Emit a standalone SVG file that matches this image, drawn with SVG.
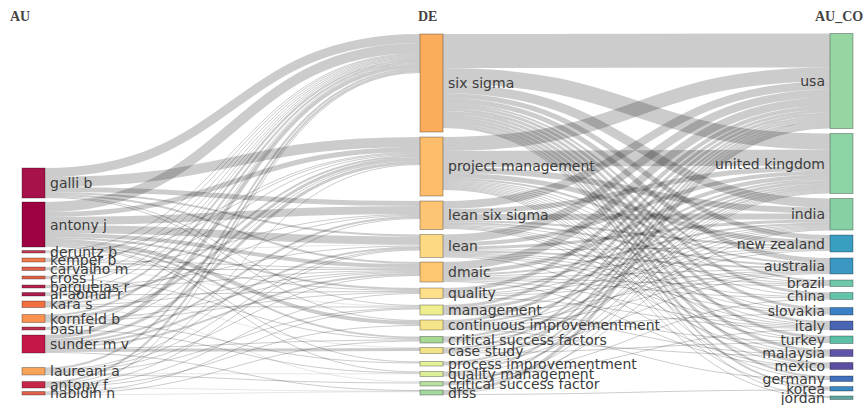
<svg xmlns="http://www.w3.org/2000/svg" width="867" height="405" viewBox="0 0 867 405">
<style>
.l,.r{fill:none;stroke:#000;stroke-opacity:0.2}
.n rect{stroke:#000;stroke-opacity:0.3;stroke-width:1}
.t{font-family:"DejaVu Sans",sans-serif;font-size:14px;fill:#3c3c3c}
.e{text-anchor:end}
.h{font-family:"Liberation Serif",serif;font-size:14px;font-weight:bold;fill:#444}
</style>
<rect width="867" height="405" fill="#fff"/>
<g id="connectors">
<path class="l" stroke-width="9" d="M45 172.5C232 172.5 232 38.5 420 38.5"/>
<path class="l" stroke-width="10" d="M45 182C232 182 232 142 420 142"/>
<path class="l" stroke-width="5" d="M45 189.5C232 189.5 232 203.5 420 203.5"/>
<path class="l" stroke-width="2" d="M45 193C232 193 232 235.5 420 235.5"/>
<path class="l" stroke-width="2" d="M45 195C232 195 232 263 420 263"/>
<path class="l" d="M45 196.5C232 196.5 232 305.5 420 305.5"/>
<path class="l" d="M45 197.5C232 197.5 232 320.5 420 320.5"/>
<path class="l" stroke-width="10" d="M45 207C232 207 232 48 420 48"/>
<path class="l" stroke-width="5" d="M45 214.5C232 214.5 232 149.5 420 149.5"/>
<path class="l" stroke-width="8" d="M45 221C232 221 232 210 420 210"/>
<path class="l" stroke-width="8" d="M45 229C232 229 232 240.5 420 240.5"/>
<path class="l" stroke-width="4" d="M45 235C232 235 232 266 420 266"/>
<path class="l" stroke-width="2" d="M45 238C232 238 232 289 420 289"/>
<path class="l" stroke-width="4" d="M45 241C232 241 232 323 420 323"/>
<path class="l" stroke-width="2" d="M45 244C232 244 232 337.5 420 337.5"/>
<path class="l" d="M45 245.5C232 245.5 232 362 420 362"/>
<path class="l" d="M45 246.5C232 246.5 232 372 420 372"/>
<path class="l" d="M45 251C232 251 232 53.5 420 53.5"/>
<path class="l" d="M45 252C232 252 232 152.5 420 152.5"/>
<path class="l" stroke-width="0.5" d="M45 252.75C232 252.75 232 244.75 420 244.75"/>
<path class="l" d="M45 258.5C232 258.5 232 54.5 420 54.5"/>
<path class="l" d="M45 259.5C232 259.5 232 153.5 420 153.5"/>
<path class="l" d="M45 260.5C232 260.5 232 268.5 420 268.5"/>
<path class="l" d="M45 261.5C232 261.5 232 290.5 420 290.5"/>
<path class="l" d="M45 267.5C232 267.5 232 55.5 420 55.5"/>
<path class="l" d="M45 268.5C232 268.5 232 214.5 420 214.5"/>
<path class="l" d="M45 269.5C232 269.5 232 269.5 420 269.5"/>
<path class="l" stroke-width="0.5" d="M45 270.25C232 270.25 232 306.25 420 306.25"/>
<path class="l" d="M45 276.5C232 276.5 232 56.5 420 56.5"/>
<path class="l" d="M45 277.5C232 277.5 232 154.5 420 154.5"/>
<path class="l" d="M45 278.5C232 278.5 232 339 420 339"/>
<path class="l" d="M45 285.5C232 285.5 232 57.5 420 57.5"/>
<path class="l" d="M45 286.5C232 286.5 232 246 420 246"/>
<path class="l" d="M45 287.5C232 287.5 232 270.5 420 270.5"/>
<path class="l" d="M45 293C232 293 232 58.5 420 58.5"/>
<path class="l" d="M45 294C232 294 232 215.5 420 215.5"/>
<path class="l" d="M45 295C232 295 232 291.5 420 291.5"/>
<path class="l" stroke-width="0.5" d="M45 295.75C232 295.75 232 347.75 420 347.75"/>
<path class="l" stroke-width="2" d="M45 302C232 302 232 60 420 60"/>
<path class="l" stroke-width="2" d="M45 304C232 304 232 156 420 156"/>
<path class="l" d="M45 305.5C232 305.5 232 271.5 420 271.5"/>
<path class="l" d="M45 306.5C232 306.5 232 307 420 307"/>
<path class="l" stroke-width="0.5" d="M45 307.25C232 307.25 232 381.75 420 381.75"/>
<path class="l" stroke-width="2" d="M45 315.5C232 315.5 232 62 420 62"/>
<path class="l" stroke-width="3" d="M45 318C232 318 232 158.5 420 158.5"/>
<path class="l" d="M45 320C232 320 232 272.5 420 272.5"/>
<path class="l" d="M45 321C232 321 232 292.5 420 292.5"/>
<path class="l" d="M45 322C232 322 232 363 420 363"/>
<path class="l" d="M45 327.5C232 327.5 232 63.5 420 63.5"/>
<path class="l" d="M45 328.5C232 328.5 232 160.5 420 160.5"/>
<path class="l" d="M45 329.5C232 329.5 232 373 420 373"/>
<path class="l" stroke-width="4" d="M45 337C232 337 232 66 420 66"/>
<path class="l" stroke-width="3" d="M45 340.5C232 340.5 232 162.5 420 162.5"/>
<path class="l" stroke-width="2" d="M45 343C232 343 232 217 420 217"/>
<path class="l" stroke-width="2" d="M45 345C232 345 232 247.5 420 247.5"/>
<path class="l" stroke-width="2" d="M45 347C232 347 232 274 420 274"/>
<path class="l" d="M45 348.5C232 348.5 232 340 420 340"/>
<path class="l" stroke-width="3" d="M45 350.5C232 350.5 232 349.5 420 349.5"/>
<path class="l" d="M45 352.5C232 352.5 232 390.5 420 390.5"/>
<path class="l" stroke-width="2" d="M45 368.5C232 368.5 232 69 420 69"/>
<path class="l" d="M45 370C232 370 232 218.5 420 218.5"/>
<path class="l" d="M45 371C232 371 232 249 420 249"/>
<path class="l" d="M45 372C232 372 232 275.5 420 275.5"/>
<path class="l" d="M45 373C232 373 232 308 420 308"/>
<path class="l" stroke-width="0.5" d="M45 373.75C232 373.75 232 373.75 420 373.75"/>
<path class="l" d="M45 374.5C232 374.5 232 383 420 383"/>
<path class="l" stroke-width="2" d="M45 382.5C232 382.5 232 71 420 71"/>
<path class="l" d="M45 384C232 384 232 164.5 420 164.5"/>
<path class="l" d="M45 385C232 385 232 250 420 250"/>
<path class="l" d="M45 386C232 386 232 293.5 420 293.5"/>
<path class="l" d="M45 387C232 387 232 325.5 420 325.5"/>
<path class="l" stroke-width="0.5" d="M45 387.75C232 387.75 232 391.25 420 391.25"/>
<path class="l" d="M45 392C232 392 232 72.5 420 72.5"/>
<path class="l" d="M45 393C232 393 232 309 420 309"/>
<path class="l" d="M45 394C232 394 232 341 420 341"/>
<path class="l" stroke-width="0.5" d="M45 394.75C232 394.75 232 391.75 420 391.75"/>

<path class="r" stroke-width="34" d="M443 51C636 51 636 50.5 830 50.5"/>
<path class="r" stroke-width="16" d="M443 76C636 76 636 141.5 830 141.5"/>
<path class="r" stroke-width="9" d="M443 88.5C636 88.5 636 203 830 203"/>
<path class="r" stroke-width="5" d="M443 95.5C636 95.5 636 237.5 830 237.5"/>
<path class="r" stroke-width="5" d="M443 100.5C636 100.5 636 260.5 830 260.5"/>
<path class="r" stroke-width="2" d="M443 104C636 104 636 281 830 281"/>
<path class="r" stroke-width="3" d="M443 106.5C636 106.5 636 294 830 294"/>
<path class="r" stroke-width="3" d="M443 109.5C636 109.5 636 309 830 309"/>
<path class="r" stroke-width="3" d="M443 112.5C636 112.5 636 322.5 830 322.5"/>
<path class="r" stroke-width="3" d="M443 115.5C636 115.5 636 337.5 830 337.5"/>
<path class="r" stroke-width="3" d="M443 118.5C636 118.5 636 351 830 351"/>
<path class="r" stroke-width="3" d="M443 121.5C636 121.5 636 364 830 364"/>
<path class="r" stroke-width="2" d="M443 124C636 124 636 377 830 377"/>
<path class="r" stroke-width="2" d="M443 126C636 126 636 387.5 830 387.5"/>
<path class="r" d="M443 127.5C636 127.5 636 396.5 830 396.5"/>
<path class="r" stroke-width="14" d="M443 144C636 144 636 74.5 830 74.5"/>
<path class="r" stroke-width="16" d="M443 159C636 159 636 157.5 830 157.5"/>
<path class="r" stroke-width="6" d="M443 170C636 170 636 210.5 830 210.5"/>
<path class="r" stroke-width="5" d="M443 175.5C636 175.5 636 242.5 830 242.5"/>
<path class="r" stroke-width="2" d="M443 179C636 179 636 264 830 264"/>
<path class="r" d="M443 180.5C636 180.5 636 282.5 830 282.5"/>
<path class="r" d="M443 181.5C636 181.5 636 296 830 296"/>
<path class="r" d="M443 182.5C636 182.5 636 311 830 311"/>
<path class="r" d="M443 183.5C636 183.5 636 324.5 830 324.5"/>
<path class="r" d="M443 184.5C636 184.5 636 339.5 830 339.5"/>
<path class="r" d="M443 185.5C636 185.5 636 353 830 353"/>
<path class="r" d="M443 186.5C636 186.5 636 366 830 366"/>
<path class="r" d="M443 187.5C636 187.5 636 378.5 830 378.5"/>
<path class="r" d="M443 188.5C636 188.5 636 389 830 389"/>
<path class="r" d="M443 189.5C636 189.5 636 397.5 830 397.5"/>
<path class="r" stroke-width="8" d="M443 205C636 205 636 85.5 830 85.5"/>
<path class="r" stroke-width="5" d="M443 211.5C636 211.5 636 168 830 168"/>
<path class="r" stroke-width="6" d="M443 217C636 217 636 216.5 830 216.5"/>
<path class="r" stroke-width="2" d="M443 221C636 221 636 246 830 246"/>
<path class="r" stroke-width="2" d="M443 223C636 223 636 266 830 266"/>
<path class="r" d="M443 224.5C636 224.5 636 283.5 830 283.5"/>
<path class="r" d="M443 225.5C636 225.5 636 312 830 312"/>
<path class="r" d="M443 226.5C636 226.5 636 325.5 830 325.5"/>
<path class="r" d="M443 227.5C636 227.5 636 340.5 830 340.5"/>
<path class="r" d="M443 228.5C636 228.5 636 354 830 354"/>
<path class="r" stroke-width="8" d="M443 238.5C636 238.5 636 93.5 830 93.5"/>
<path class="r" stroke-width="4" d="M443 244.5C636 244.5 636 172.5 830 172.5"/>
<path class="r" stroke-width="3" d="M443 248C636 248 636 221 830 221"/>
<path class="r" d="M443 250C636 250 636 247.5 830 247.5"/>
<path class="r" stroke-width="2" d="M443 251.5C636 251.5 636 268 830 268"/>
<path class="r" d="M443 253C636 253 636 284.5 830 284.5"/>
<path class="r" d="M443 254C636 254 636 297 830 297"/>
<path class="r" d="M443 255C636 255 636 313 830 313"/>
<path class="r" d="M443 256C636 256 636 326.5 830 326.5"/>
<path class="r" d="M443 257C636 257 636 367 830 367"/>
<path class="r" stroke-width="8" d="M443 266C636 266 636 101.5 830 101.5"/>
<path class="r" stroke-width="4" d="M443 272C636 272 636 176.5 830 176.5"/>
<path class="r" stroke-width="2" d="M443 275C636 275 636 223.5 830 223.5"/>
<path class="r" d="M443 276.5C636 276.5 636 248.5 830 248.5"/>
<path class="r" d="M443 277.5C636 277.5 636 269.5 830 269.5"/>
<path class="r" d="M443 278.5C636 278.5 636 285.5 830 285.5"/>
<path class="r" d="M443 279.5C636 279.5 636 298 830 298"/>
<path class="r" d="M443 280.5C636 280.5 636 327.5 830 327.5"/>
<path class="r" d="M443 281.5C636 281.5 636 368 830 368"/>
<path class="r" stroke-width="4" d="M443 290C636 290 636 107.5 830 107.5"/>
<path class="r" stroke-width="2" d="M443 293C636 293 636 179.5 830 179.5"/>
<path class="r" d="M443 294.5C636 294.5 636 225 830 225"/>
<path class="r" d="M443 295.5C636 295.5 636 249.5 830 249.5"/>
<path class="r" d="M443 296.5C636 296.5 636 270.5 830 270.5"/>
<path class="r" d="M443 297.5C636 297.5 636 328.5 830 328.5"/>
<path class="r" stroke-width="3" d="M443 306.5C636 306.5 636 111 830 111"/>
<path class="r" stroke-width="3" d="M443 309.5C636 309.5 636 182 830 182"/>
<path class="r" d="M443 311.5C636 311.5 636 226 830 226"/>
<path class="r" d="M443 312.5C636 312.5 636 271.5 830 271.5"/>
<path class="r" d="M443 313.5C636 313.5 636 341.5 830 341.5"/>
<path class="r" d="M443 314.5C636 314.5 636 355 830 355"/>
<path class="r" stroke-width="3" d="M443 321.5C636 321.5 636 114 830 114"/>
<path class="r" stroke-width="2" d="M443 324C636 324 636 184.5 830 184.5"/>
<path class="r" d="M443 325.5C636 325.5 636 227 830 227"/>
<path class="r" d="M443 326.5C636 326.5 636 250.5 830 250.5"/>
<path class="r" d="M443 327.5C636 327.5 636 272.5 830 272.5"/>
<path class="r" d="M443 328.5C636 328.5 636 314 830 314"/>
<path class="r" d="M443 329.5C636 329.5 636 379.5 830 379.5"/>
<path class="r" stroke-width="2" d="M443 337.5C636 337.5 636 116.5 830 116.5"/>
<path class="r" stroke-width="2" d="M443 339.5C636 339.5 636 186.5 830 186.5"/>
<path class="r" d="M443 341C636 341 636 228 830 228"/>
<path class="r" d="M443 342C636 342 636 356 830 356"/>
<path class="r" stroke-width="2" d="M443 348.5C636 348.5 636 118.5 830 118.5"/>
<path class="r" stroke-width="2" d="M443 350.5C636 350.5 636 188.5 830 188.5"/>
<path class="r" d="M443 352C636 352 636 273.5 830 273.5"/>
<path class="r" d="M443 353C636 353 636 342.5 830 342.5"/>
<path class="r" stroke-width="2" d="M443 362.5C636 362.5 636 120.5 830 120.5"/>
<path class="r" d="M443 364C636 364 636 190 830 190"/>
<path class="r" d="M443 365C636 365 636 229 830 229"/>
<path class="r" stroke-width="2" d="M443 372.5C636 372.5 636 122.5 830 122.5"/>
<path class="r" d="M443 374C636 374 636 191 830 191"/>
<path class="r" d="M443 375C636 375 636 299 830 299"/>
<path class="r" d="M443 376C636 376 636 329.5 830 329.5"/>
<path class="r" stroke-width="2" d="M443 382.5C636 382.5 636 124.5 830 124.5"/>
<path class="r" d="M443 384C636 384 636 192 830 192"/>
<path class="r" d="M443 385C636 385 636 230 830 230"/>
<path class="r" stroke-width="3" d="M443 391.5C636 391.5 636 127 830 127"/>
<path class="r" d="M443 393.5C636 393.5 636 193 830 193"/>
<path class="r" d="M443 394.5C636 394.5 636 390 830 390"/>
</g>
<g class="n">
<g id="au-galli-b"><rect x="22" y="168" width="23" height="30" fill="#a8124a"/><text class="t" x="50" y="188">galli b</text></g>
<g id="au-antony-j"><rect x="22" y="202" width="23" height="45" fill="#9e0142"/><text class="t" x="50" y="229.5">antony j</text></g>
<g id="au-deruntz-b"><rect x="22" y="250.5" width="23" height="2.5" fill="#c43a52"/><text class="t" x="50" y="256.5">deruntz b</text></g>
<g id="au-kemper-b"><rect x="22" y="258" width="23" height="4" fill="#f07a4c"/><text class="t" x="50" y="265">kemper b</text></g>
<g id="au-carvalho-m"><rect x="22" y="267" width="23" height="3.5" fill="#e0604e"/><text class="t" x="50" y="273.5">carvalho m</text></g>
<g id="au-cross-j"><rect x="22" y="276" width="23" height="3" fill="#e0644a"/><text class="t" x="50" y="282.5">cross j</text></g>
<g id="au-bargueias-r"><rect x="22" y="285" width="23" height="3" fill="#b8244e"/><text class="t" x="50" y="291.5">bargueias r</text></g>
<g id="au-al-aomar-r"><rect x="22" y="292.5" width="23" height="3.5" fill="#aa1c4a"/><text class="t" x="50" y="299">al-aomar r</text></g>
<g id="au-kara-s"><rect x="22" y="301" width="23" height="6.5" fill="#f0703f"/><text class="t" x="50" y="309">kara s</text></g>
<g id="au-kornfeld-b"><rect x="22" y="314.5" width="23" height="8" fill="#f8924e"/><text class="t" x="50" y="323.5">kornfeld b</text></g>
<g id="au-basu-r"><rect x="22" y="327" width="23" height="3" fill="#c03050"/><text class="t" x="50" y="333.5">basu r</text></g>
<g id="au-sunder-m-v"><rect x="22" y="335" width="23" height="18" fill="#c41848"/><text class="t" x="50" y="349">sunder m v</text></g>
<g id="au-laureani-a"><rect x="22" y="367.5" width="23" height="7.5" fill="#f8a45a"/><text class="t" x="50" y="376">laureani a</text></g>
<g id="au-antony-f"><rect x="22" y="381.5" width="23" height="6.5" fill="#c82848"/><text class="t" x="50" y="389.5">antony f</text></g>
<g id="au-habidin-n"><rect x="22" y="391.5" width="23" height="3.5" fill="#e0604a"/><text class="t" x="50" y="398">habidin n</text></g>

<g id="de-six-sigma"><rect x="420" y="34" width="23" height="98" fill="#fbac5c"/><text class="t" x="448" y="88">six sigma</text></g>
<g id="de-project-management"><rect x="420" y="137" width="23" height="59" fill="#fdbd6a"/><text class="t" x="448" y="171">project management</text></g>
<g id="de-lean-six-sigma"><rect x="420" y="201" width="23" height="28.5" fill="#fdc474"/><text class="t" x="448" y="220">lean six sigma</text></g>
<g id="de-lean"><rect x="420" y="234.5" width="23" height="23" fill="#fed983"/><text class="t" x="448" y="251">lean</text></g>
<g id="de-dmaic"><rect x="420" y="262" width="23" height="20" fill="#fdc670"/><text class="t" x="448" y="277">dmaic</text></g>
<g id="de-quality"><rect x="420" y="288" width="23" height="10.5" fill="#fedf8a"/><text class="t" x="448" y="298">quality</text></g>
<g id="de-management"><rect x="420" y="305" width="23" height="10" fill="#eeee8e"/><text class="t" x="448" y="315">management</text></g>
<g id="de-continuous-improvementment"><rect x="420" y="320" width="23" height="10" fill="#f6e48a"/><text class="t" x="448" y="330">continuous improvementment</text></g>
<g id="de-critical-success-factors"><rect x="420" y="336.5" width="23" height="6.5" fill="#a6d992"/><text class="t" x="448" y="344.5">critical success factors</text></g>
<g id="de-case-study"><rect x="420" y="347.5" width="23" height="6" fill="#f2e38a"/><text class="t" x="448" y="355.5">case study</text></g>
<g id="de-process-improvementment"><rect x="420" y="361.5" width="23" height="4.5" fill="#e4f29a"/><text class="t" x="448" y="368.5">process improvementment</text></g>
<g id="de-quality-management"><rect x="420" y="371.5" width="23" height="5" fill="#dcee98"/><text class="t" x="448" y="379">quality management</text></g>
<g id="de-critical-success-factor"><rect x="420" y="381.5" width="23" height="4.5" fill="#b8e0a0"/><text class="t" x="448" y="388.5">critical success factor</text></g>
<g id="de-dfss"><rect x="420" y="390" width="23" height="5" fill="#a4d8a0"/><text class="t" x="448" y="397.5">dfss</text></g>

<g id="co-usa"><rect x="830" y="33.5" width="23" height="95" fill="#95d6a2"/><text class="t e" x="825" y="86">usa</text></g>
<g id="co-united-kingdom"><rect x="830" y="133.5" width="23" height="60" fill="#8dd4a4"/><text class="t e" x="825" y="168.5">united kingdom</text></g>
<g id="co-india"><rect x="830" y="198.5" width="23" height="31.5" fill="#86d0a4"/><text class="t e" x="825" y="219">india</text></g>
<g id="co-new-zealand"><rect x="830" y="235" width="23" height="17" fill="#3a9ec0"/><text class="t e" x="825" y="248.5">new zealand</text></g>
<g id="co-australia"><rect x="830" y="258" width="23" height="16" fill="#3a98c2"/><text class="t e" x="825" y="271">australia</text></g>
<g id="co-brazil"><rect x="830" y="280" width="23" height="6.5" fill="#6cc8a8"/><text class="t e" x="825" y="288">brazil</text></g>
<g id="co-china"><rect x="830" y="292.5" width="23" height="7" fill="#62c4a8"/><text class="t e" x="825" y="301">china</text></g>
<g id="co-slovakia"><rect x="830" y="307.5" width="23" height="7.5" fill="#3b7fc4"/><text class="t e" x="825" y="316">slovakia</text></g>
<g id="co-italy"><rect x="830" y="321" width="23" height="9" fill="#4a65b4"/><text class="t e" x="825" y="330.5">italy</text></g>
<g id="co-turkey"><rect x="830" y="336" width="23" height="7.5" fill="#5cc0a6"/><text class="t e" x="825" y="344.5">turkey</text></g>
<g id="co-malaysia"><rect x="830" y="349.5" width="23" height="7" fill="#5e55a8"/><text class="t e" x="825" y="358">malaysia</text></g>
<g id="co-mexico"><rect x="830" y="362.5" width="23" height="7" fill="#5a4ea2"/><text class="t e" x="825" y="371">mexico</text></g>
<g id="co-germany"><rect x="830" y="376" width="23" height="5.5" fill="#4070bc"/><text class="t e" x="825" y="383.5">germany</text></g>
<g id="co-korea"><rect x="830" y="386.5" width="23" height="4.5" fill="#3a88c0"/><text class="t e" x="825" y="393.5">korea</text></g>
<g id="co-jordan"><rect x="830" y="396" width="23" height="3.5" fill="#5aa8a0"/><text class="t e" x="825" y="402.5">jordan</text></g>
</g>
<g id="headers">
<text class="h" x="10" y="21">AU</text>
<text class="h" x="418" y="21">DE</text>
<text class="h" x="815" y="21">AU_CO</text>
</g>
</svg>
